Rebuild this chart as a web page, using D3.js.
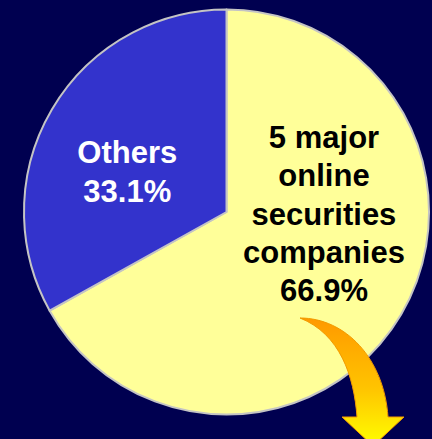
<!DOCTYPE html>
<html>
<head>
<meta charset="utf-8">
<script src="https://cdn.jsdelivr.net/npm/d3@7"></script>
<style>
  html, body { margin: 0; padding: 0; background: #000050; }
  svg { display: block; }
</style>
</head>
<body>
<svg id="chart" width="432" height="439"></svg>
<script>
// Market share of online securities trading
const categories = ["5 major online securities companies", "Others"];
const shares = [66.9, 33.1];
const labelLines = [
  ["5 major", "online", "securities", "companies", "66.9%"],
  ["Others", "33.1%"]
];
const sliceColors = ["#FFFF99", "#3333CC"];
const textColors = ["#000000", "#FFFFFF"];

const W = 432, H = 439;
const cx = 226.5, cy = 212, R = 202.5;

const svg = d3.select("#chart");

// Arrow gradient: orange at the top fading into yellow at the head
const defs = svg.append("defs");
const grad = defs.append("linearGradient")
  .attr("id", "arrowGrad")
  .attr("x1", 0).attr("y1", 0).attr("x2", 0).attr("y2", 1);
grad.append("stop").attr("offset", "0%").attr("stop-color", "#FF9900");
grad.append("stop").attr("offset", "55%").attr("stop-color", "#FFC400");
grad.append("stop").attr("offset", "100%").attr("stop-color", "#FFFF00");

const g = svg.append("g").attr("transform", `translate(${cx},${cy})`);

const pie = d3.pie().sort(null).value(d => d.value);
const arcs = pie(categories.map((c, i) => ({ name: c, value: shares[i], i })));
const arc = d3.arc().innerRadius(0).outerRadius(R);

g.selectAll("path.slice")
  .data(arcs)
  .join("path")
  .attr("class", "slice")
  .attr("d", arc)
  .attr("fill", d => sliceColors[d.data.i])
  .attr("stroke", "#C4C4C4")
  .attr("stroke-width", 2)
  .attr("stroke-linejoin", "round");

// Slice labels, offset from the pie centre
const labelAnchors = [
  { dx: 97.5, firstBaseline: -64.3, step: 38.4 },
  { dx: -99.2, firstBaseline: -49.5, step: 39.5 }
];

arcs.forEach(a => {
  const i = a.data.i;
  const anc = labelAnchors[i];
  const t = g.append("text")
    .attr("text-anchor", "middle")
    .attr("font-family", "'Liberation Sans', Arial, Helvetica, sans-serif")
    .attr("font-weight", "bold")
    .attr("font-size", 31)
    .attr("fill", textColors[i]);
  labelLines[i].forEach((line, k) => {
    t.append("tspan")
      .attr("x", anc.dx)
      .attr("y", anc.firstBaseline + k * anc.step)
      .text(line);
  });
});

// Curved arrow leaving the large slice
const arrow = d3.path();
arrow.moveTo(300, 318);
arrow.bezierCurveTo(345, 318, 384, 358, 388, 417);
arrow.lineTo(404, 417);
arrow.lineTo(373, 446);
arrow.lineTo(342, 417);
arrow.lineTo(357, 417);
arrow.bezierCurveTo(354, 376, 340, 334, 300, 318);
arrow.closePath();

svg.append("path")
  .attr("d", arrow.toString())
  .attr("fill", "url(#arrowGrad)")
  .attr("stroke", "#F29A00")
  .attr("stroke-width", 1)
  .attr("stroke-linejoin", "miter");
</script>
</body>
</html>
